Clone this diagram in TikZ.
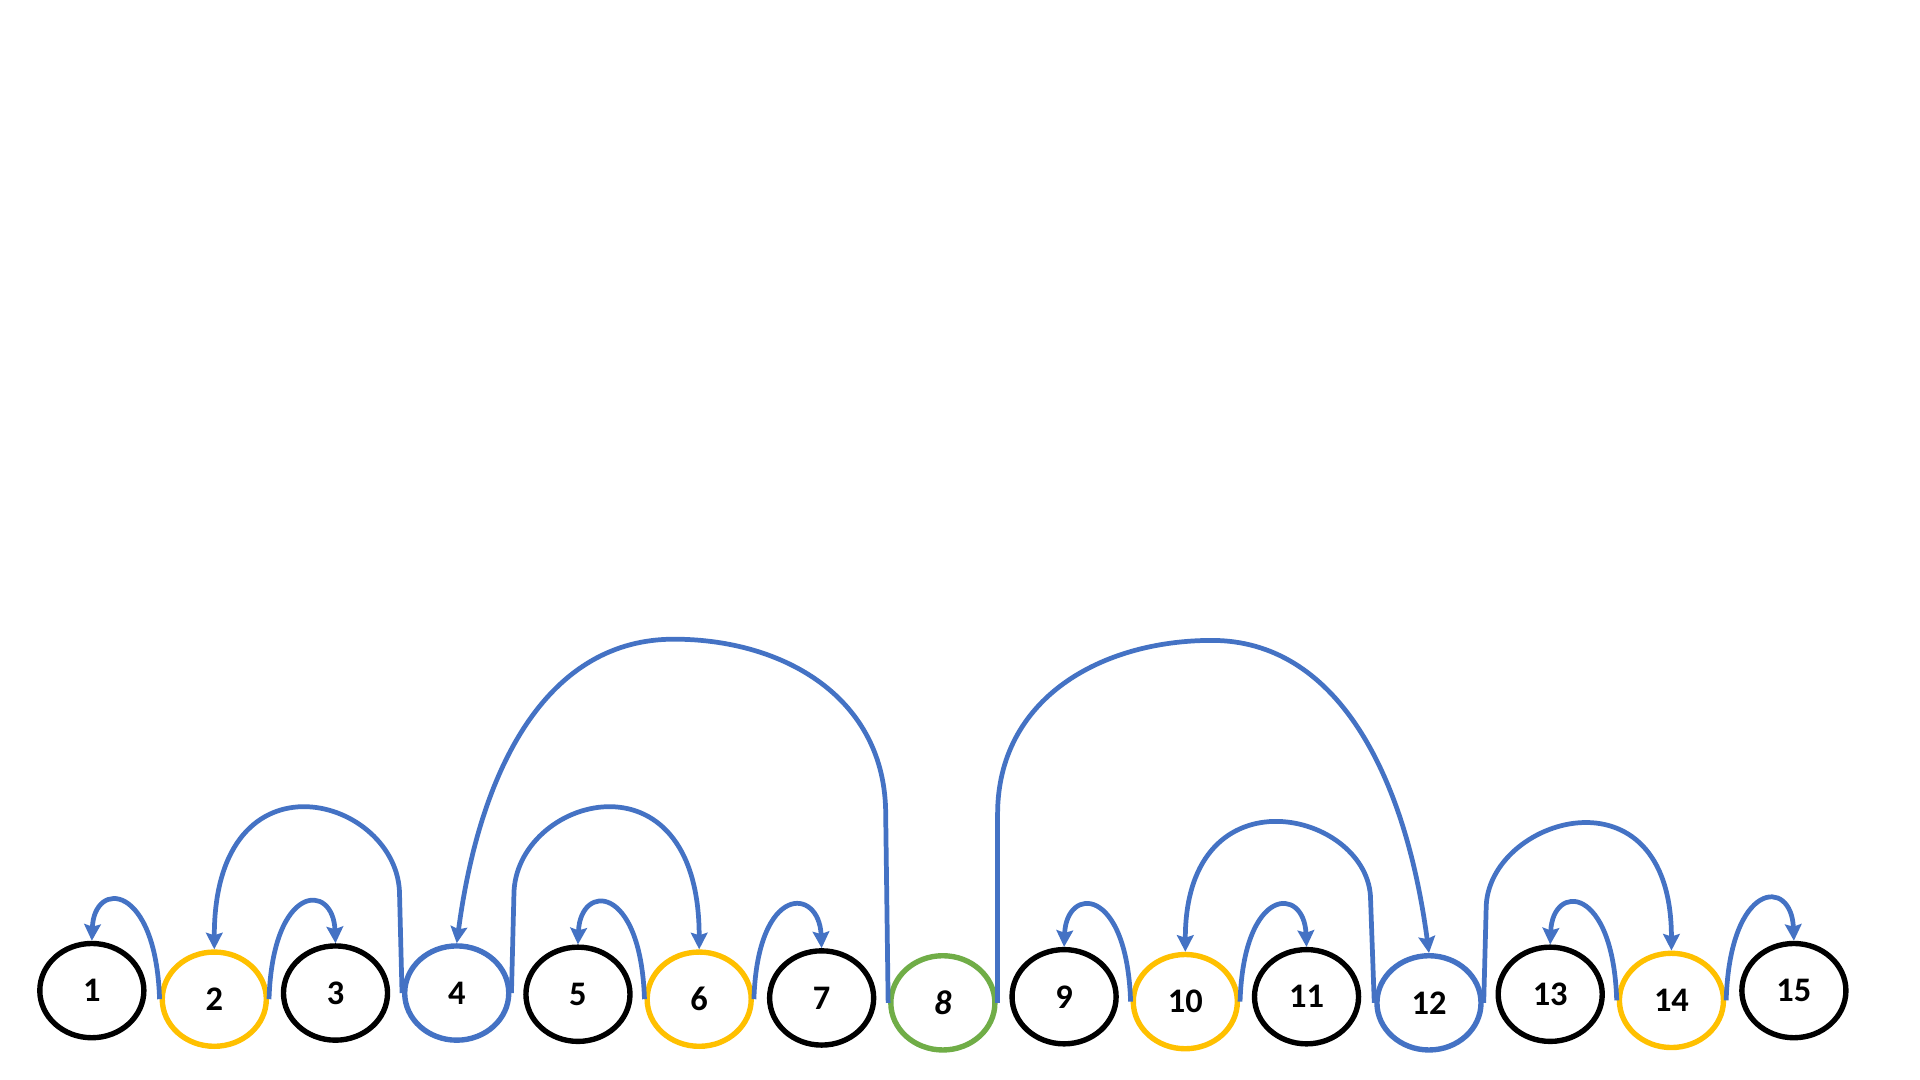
\documentclass[tikz,border=0pt]{standalone}
\usepackage{fontspec}
\setmainfont{Carlito}
\usetikzlibrary{arrows.meta,shapes.geometric}
\definecolor{arrblue}{HTML}{4472C4}
\definecolor{keyorange}{HTML}{FFC000}
\definecolor{rootgreen}{HTML}{70AD47}
\tikzset{
  keyc/.style={draw,ellipse,line width=2.5pt,minimum width=1.70cm,minimum height=1.54cm,inner sep=0pt,
    font=\fontsize{16}{18}\selectfont\bfseries},
  blkc/.style={keyc,draw=black},
  orgc/.style={keyc,draw=keyorange},
  bluc/.style={keyc,draw=arrblue},
  grnc/.style={keyc,draw=rootgreen},
  arr/.style={-{Stealth[length=0.27cm,width=0.27cm,inset=0.04cm]},line width=2.2pt,draw=arrblue}
}
\begin{document}
\begin{tikzpicture}[x=0.02cm,y=0.02cm]
  \useasboundingbox (0,0) rectangle (1568,882);
  \fill[white] (0,0) rectangle (1568,882);

  % keys in order
  \node[blkc] (n1)  at (75,73)   {1};
  \node[orgc] (n2)  at (175,66)  {2};
  \node[blkc] (n3)  at (274,71)  {3};
  \node[bluc] (n4)  at (373,71)  {4};
  \node[blkc] (n5)  at (472,70)  {5};
  \node[orgc] (n6)  at (571,66)  {6};
  \node[blkc] (n7)  at (671,67)  {7};
  \node[grnc] (n8)  at (770,63)  {\itshape 8};
  \node[blkc] (n9)  at (869,68)  {9};
  \node[orgc] (n10) at (968,64)  {10};
  \node[blkc] (n11) at (1067,68) {11};
  \node[bluc] (n12) at (1167,63) {12};
  \node[blkc] (n13) at (1266,70) {13};
  \node[orgc] (n14) at (1365,65) {14};
  \node[blkc] (n15) at (1465,73) {15};

  % root links
  \draw[arr] (n8.west) -- ++(-2,154) .. controls +(0,95) and +(90,0) .. ++(-173,143)
    .. controls +(-100,0) and +(20,150) .. (n4.north);
  \draw[arr] (n8.east) -- ++(0,154) .. controls +(0,95) and +(-90,0) .. ++(175,142)
    .. controls +(100,0) and +(-20,150) .. (n12.north);

  % second level
  \draw[arr] (n4.west) -- ++(-2,80) .. controls +(0,80) and +(0,168) .. (n2.north);
  \draw[arr] (n4.east) -- ++(2,80) .. controls +(0,80) and +(0,168) .. (n6.north);
  \draw[arr] (n12.west) -- ++(-3,84) .. controls +(0,72) and +(0,152) .. (n10.north);
  \draw[arr] (n12.east) -- ++(2,77) .. controls +(0,74) and +(0,155) .. (n14.north);

  % leaves
  \draw[arr] (n2.west) .. controls +(-3,95) and +(2,50) .. (n1.north);
  \draw[arr] (n2.east) .. controls +(3,95) and +(-2,50) .. (n3.north);
  \draw[arr] (n6.west) .. controls +(-3,95) and +(2,50) .. (n5.north);
  \draw[arr] (n6.east) .. controls +(3,95) and +(-2,50) .. (n7.north);
  \draw[arr] (n10.west) .. controls +(-3,95) and +(2,50) .. (n9.north);
  \draw[arr] (n10.east) .. controls +(3,95) and +(-2,50) .. (n11.north);
  \draw[arr] (n14.west) .. controls +(-3,95) and +(2,50) .. (n13.north);
  \draw[arr] (n14.east) .. controls +(3,98) and +(-2,52) .. (n15.north);
\end{tikzpicture}
\end{document}
